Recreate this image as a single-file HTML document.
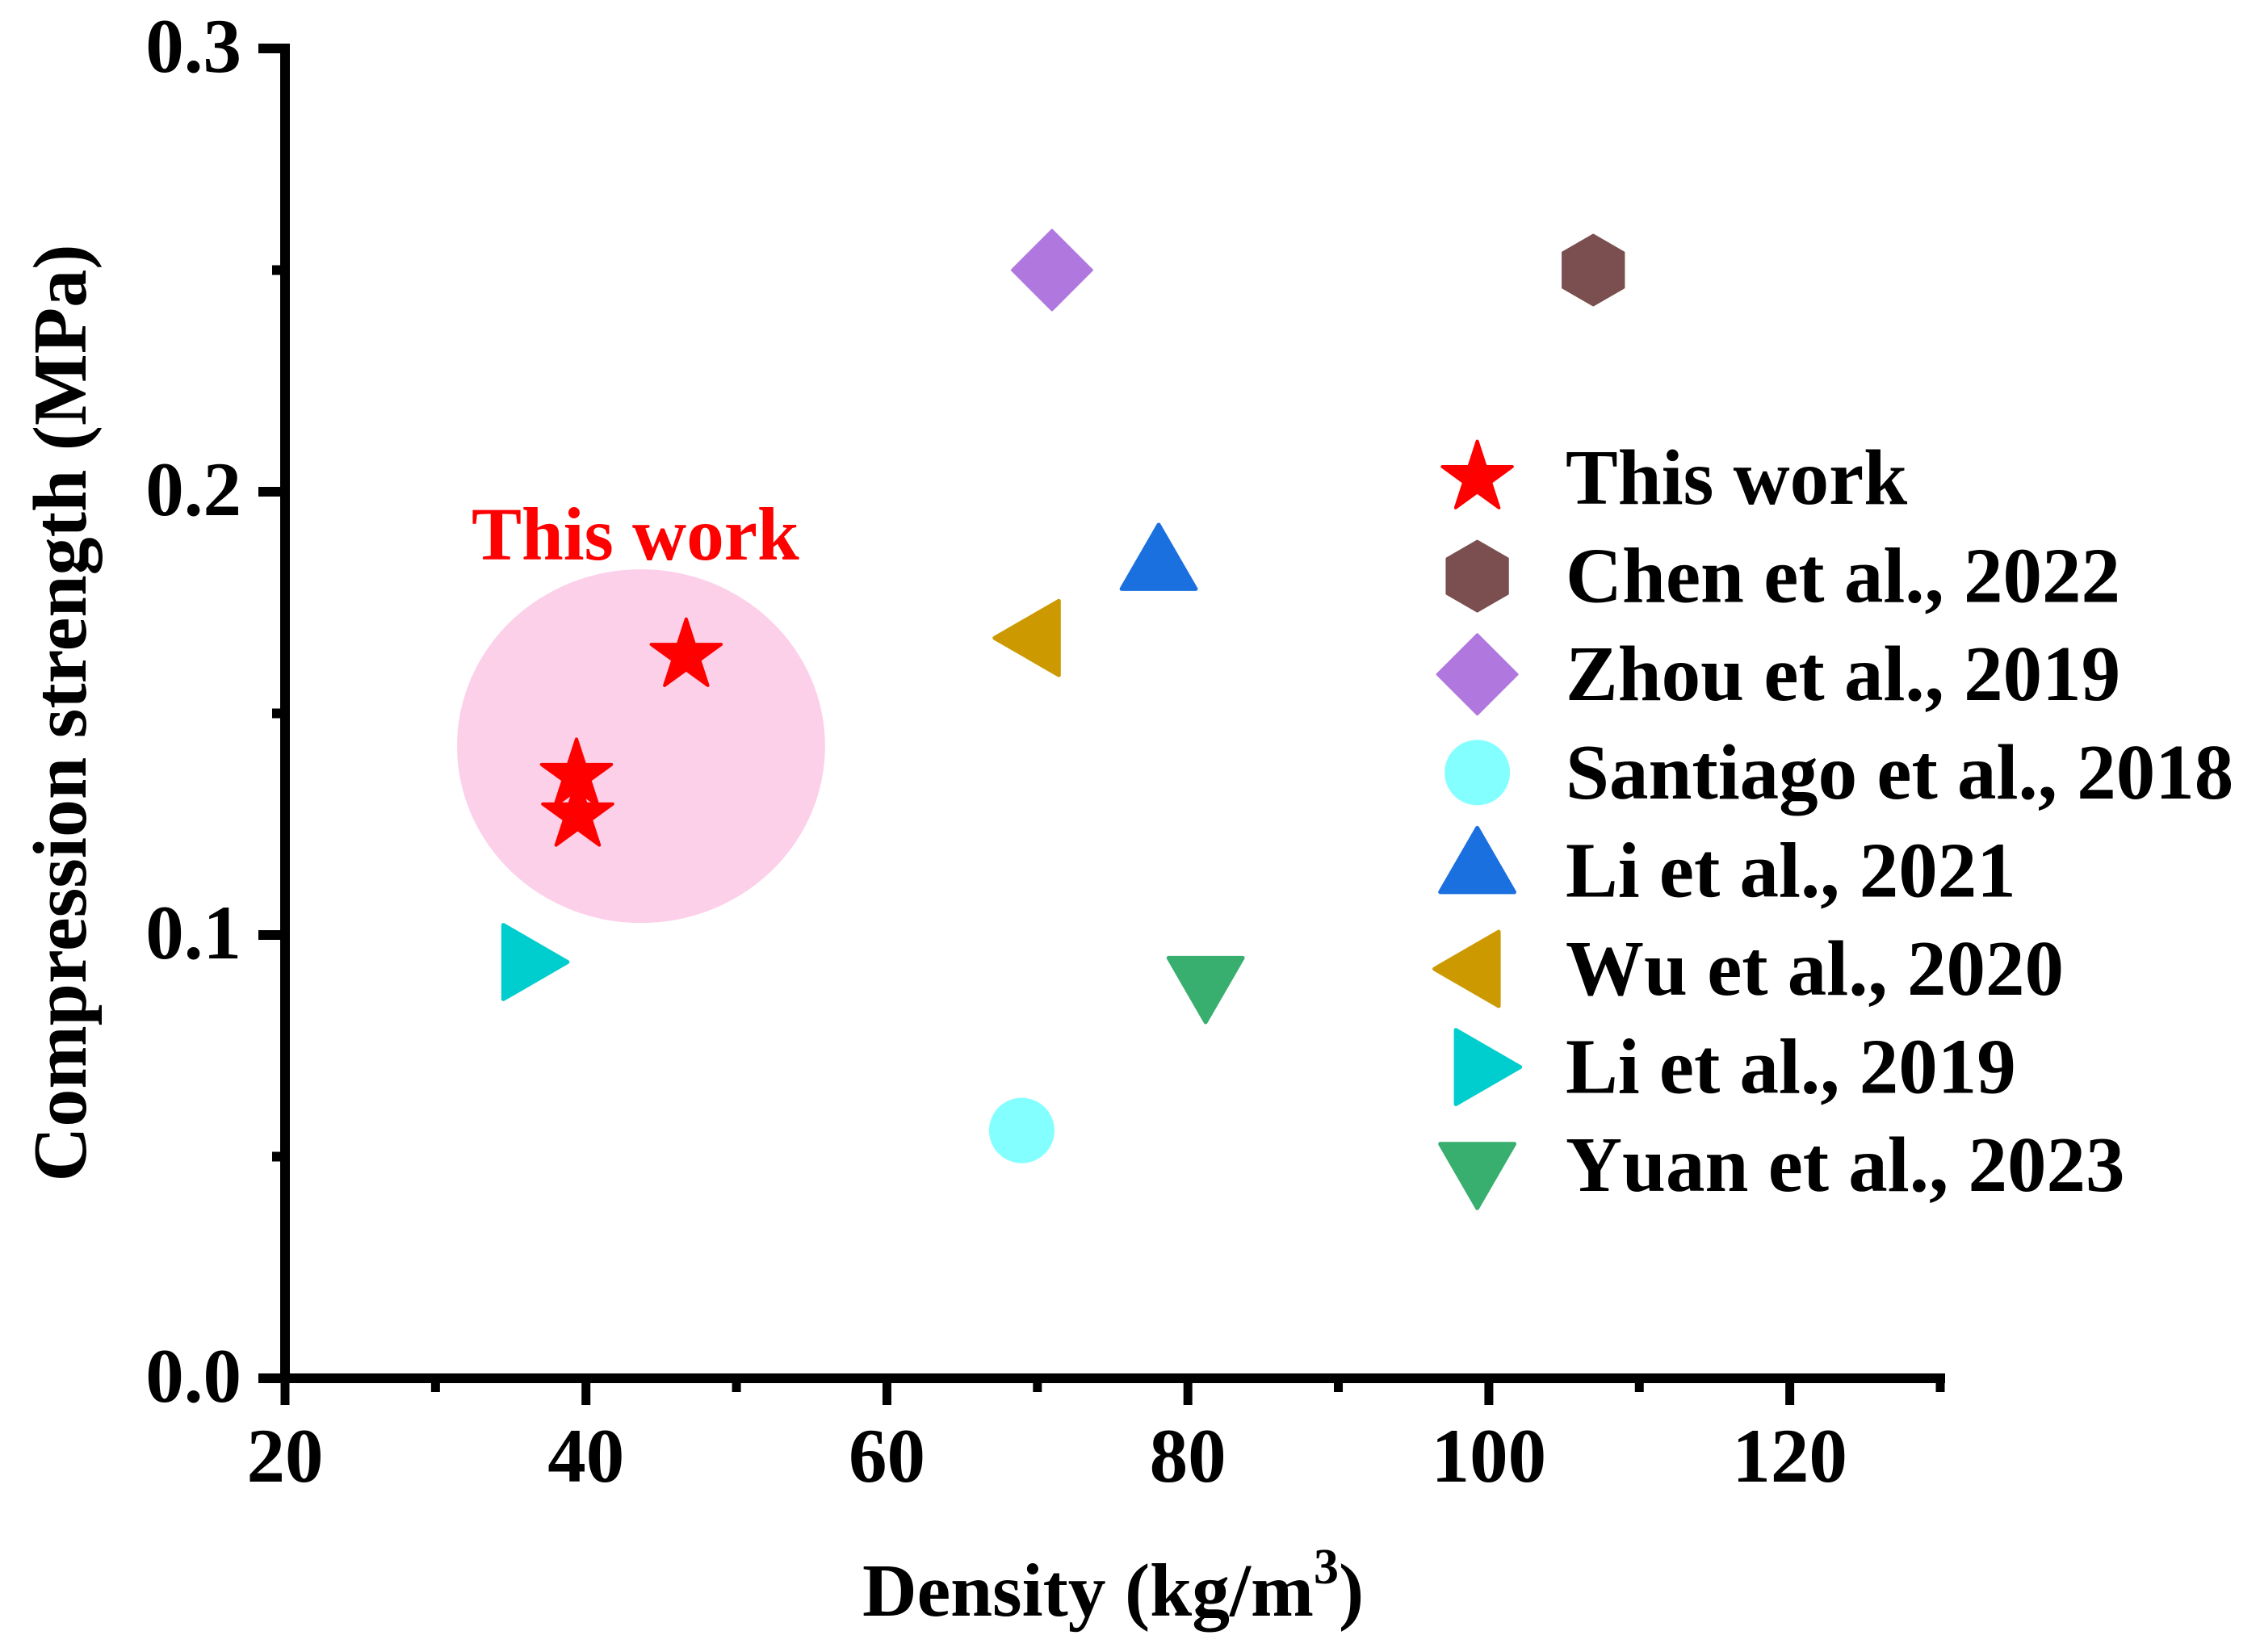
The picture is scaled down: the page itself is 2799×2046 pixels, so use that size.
<!DOCTYPE html>
<html lang="en">
<head>
<meta charset="utf-8">
<title>Compression strength vs density</title>
<style>
  html, body { margin: 0; padding: 0; background: #ffffff; }
  body { width: 2799px; height: 2046px; overflow: hidden; }
  svg { display: block; }
  text { font-family: "Liberation Serif", serif; font-weight: bold; fill: #000000; }
  #legend text { font-kerning: none; }
</style>
</head>
<body>
<svg id="chart" xmlns="http://www.w3.org/2000/svg" width="2799" height="2046" viewBox="0 0 2799 2046">
  <rect x="0" y="0" width="2799" height="2046" fill="#ffffff"/>
  <ellipse id="highlight" fill="#fdd0e9"/>
  <text x="584" y="693" font-size="93" style="fill:#ff0000">This work</text>
  <g id="axes"></g>
  <g id="marks"></g>
  <g id="legend"></g>
  <text x="1068" y="2001" font-size="93.6">Density (kg/m<tspan dy="-40" font-size="62">3</tspan><tspan dy="40">)</tspan></text>
  <text transform="translate(106 883) rotate(-90)" text-anchor="middle" font-size="94">Compression strength (MPa)</text>
</svg>
<script>
const seriesNames = ["This work", "Chen et al., 2022", "Zhou et al., 2019", "Santiago et al., 2018", "Li et al., 2021", "Wu et al., 2020", "Li et al., 2019", "Yuan et al., 2023"];
const seriesShapes = ["star", "hexagon", "diamond", "circle", "up", "left", "right", "down"];
const seriesColors = ["#ff0000", "#7b4f4f", "#b078de", "#84ffff", "#1b70e0", "#cc9900", "#00cdcd", "#39af6f"];
const seriesX = [[46.66, 39.37, 39.45], [106.94], [70.97], [68.96], [78.06], [70.0], [35.93], [81.18]];
const seriesY = [[0.163, 0.1359, 0.127], [0.25], [0.25], [0.0559], [0.1829], [0.167], [0.0939], [0.0900]];
const xMajorTicks = [20, 40, 60, 80, 100, 120];
const xMinorTicks = [30, 50, 70, 90, 110, 130];
const yMajorTicks = [0, 0.1, 0.2, 0.3];
const yMinorTicks = [0.05, 0.15, 0.25];
const yTickLabels = ["0.0", "0.1", "0.2", "0.3"];
const xDomain = [20, 130];
const yDomain = [0, 0.3];
const highlightCenter = [43.66, 0.1426];
const highlightRadii = [12.23, 0.0399];

const SVG_NS = "http://www.w3.org/2000/svg";
const plotLeft = 353, plotRight = 2403, plotBottom = 1707, plotTop = 60;
function xScale(v) { return plotLeft + (v - xDomain[0]) / (xDomain[1] - xDomain[0]) * (plotRight - plotLeft); }
function yScale(v) { return plotBottom - (v - yDomain[0]) / (yDomain[1] - yDomain[0]) * (plotBottom - plotTop); }

function make(tag, attrs, parent) {
  const el = document.createElementNS(SVG_NS, tag);
  for (const k in attrs) el.setAttribute(k, attrs[k]);
  parent.appendChild(el);
  return el;
}
function regular(cx, cy, r, n, startDeg) {
  const pts = [];
  for (let i = 0; i < n; i++) {
    const a = (startDeg + i * 360 / n) * Math.PI / 180;
    pts.push((cx + r * Math.cos(a)).toFixed(2) + "," + (cy + r * Math.sin(a)).toFixed(2));
  }
  return pts.join(" ");
}
function starPoints(cx, cy, r) {
  const pts = [];
  for (let i = 0; i < 10; i++) {
    const a = (-90 + i * 36) * Math.PI / 180;
    const rad = i % 2 === 0 ? r : r * 0.382;
    pts.push((cx + rad * Math.cos(a)).toFixed(2) + "," + (cy + rad * Math.sin(a)).toFixed(2));
  }
  return pts.join(" ");
}
function drawMarker(shape, color, cx, cy, parent) {
  if (shape === "circle") {
    return make("circle", { cx: cx, cy: cy, r: 40.5, fill: color }, parent);
  }
  let points;
  let sw = 5;
  if (shape === "star") { points = starPoints(cx, cy, 45.5); sw = 4; }
  else if (shape === "hexagon") { points = regular(cx, cy, 43.5, 6, -90); sw = 3; }
  else if (shape === "diamond") { points = regular(cx, cy, 49.5, 4, -90); sw = 3; }
  else if (shape === "up") { points = regular(cx, cy, 53, 3, -90); }
  else if (shape === "down") { points = regular(cx, cy, 53, 3, 90); }
  else if (shape === "left") { points = regular(cx, cy, 53, 3, 180); }
  else { points = regular(cx, cy, 53, 3, 0); }
  return make("polygon", { points: points, fill: color, stroke: color, "stroke-width": sw, "stroke-linejoin": "round" }, parent);
}

const highlight = document.getElementById("highlight");
highlight.setAttribute("cx", xScale(highlightCenter[0]));
highlight.setAttribute("cy", yScale(highlightCenter[1]));
highlight.setAttribute("rx", xScale(highlightCenter[0] + highlightRadii[0]) - xScale(highlightCenter[0]));
highlight.setAttribute("ry", yScale(highlightCenter[1]) - yScale(highlightCenter[1] + highlightRadii[1]));

const axes = document.getElementById("axes");
const yAxisLine = make("rect", { x: plotLeft - 6, y: plotTop - 6, width: 12, height: plotBottom - plotTop + 12, fill: "#000" }, axes);


const xAxisLine = make("rect", { x: plotLeft - 6, y: plotBottom - 6, width: plotRight - plotLeft + 12, height: 12, fill: "#000" }, axes);



xMajorTicks.forEach(function (v) {
  const x = xScale(v);
  const t = make("rect", { x: x - 5.5, y: plotBottom, width: 11, height: 33, fill: "#000" }, axes);
  
  
  const l = make("text", { x: x, y: 1835, "text-anchor": "middle", "font-size": 95 }, axes);
  l.textContent = String(v);
  
  
});
xMinorTicks.forEach(function (v) {
  const t = make("rect", { x: xScale(v) - 5.5, y: plotBottom, width: 11, height: 17, fill: "#000" }, axes);
  
  
});
yMajorTicks.forEach(function (v, i) {
  const y = yScale(v);
  const t = make("rect", { x: 320, y: y - 6, width: 33, height: 12, fill: "#000" }, axes);
  
  
  const l = make("text", { x: 299, y: y + 29, "text-anchor": "end", "font-size": 95 }, axes);
  l.textContent = yTickLabels[i];
  
  
});
yMinorTicks.forEach(function (v) {
  const t = make("rect", { x: 337, y: yScale(v) - 6, width: 16, height: 12, fill: "#000" }, axes);
  
  
});

const marks = document.getElementById("marks");
seriesNames.forEach(function (name, s) {
  seriesX[s].forEach(function (xv, i) {
    const m = drawMarker(seriesShapes[s], seriesColors[s], xScale(xv), yScale(seriesY[s][i]), marks);
    
    
  });
});

const legend = document.getElementById("legend");
const legendMarkerX = 1829.6, legendTextX = 1939, legendFirstY = 592, legendRow = 121.6;
seriesNames.forEach(function (name, s) {
  const cy = legendFirstY + s * legendRow;
  const m = drawMarker(seriesShapes[s], seriesColors[s], legendMarkerX, cy, legend);
  
  
  const t = make("text", { x: legendTextX, y: cy + 32, "font-size": 97 }, legend);
  t.textContent = name;
  
  
});
</script>
</body>
</html>
